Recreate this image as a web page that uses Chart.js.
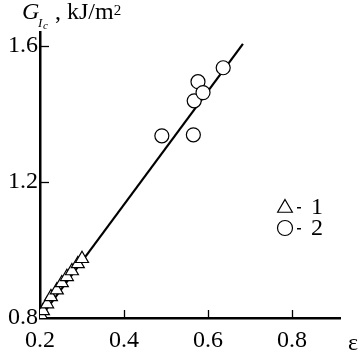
<!DOCTYPE html>
<html><head><meta charset="utf-8">
<script src="https://cdn.jsdelivr.net/npm/chart.js@4"></script>
<style>html,body{margin:0;padding:0;background:#fff}#wrap{position:relative;width:361px;height:357px}</style>
</head><body><div id="wrap"><canvas id="c" width="361" height="357"></canvas></div>
<script>
const triX = [0.202, 0.207, 0.217, 0.226, 0.240, 0.252, 0.264, 0.276, 0.290, 0.300];
const triY = [0.809, 0.821, 0.841, 0.862, 0.882, 0.903, 0.921, 0.938, 0.959, 0.974];
const circX = [0.490, 0.565, 0.567, 0.576, 0.588, 0.636];
const circY = [1.335, 1.338, 1.438, 1.494, 1.462, 1.535];
const fitX = [0.2, 0.683];
const fitY = [0.8, 1.605];
const xTicks = [0.2, 0.4, 0.6, 0.8];
const yTicks = [0.8, 1.2, 1.6];
const xTickLabels = ['0.2', '0.4', '0.6', '0.8'];
const yTickLabels = ['0.8', '1.2', '1.6'];
const legendLabels = ['1', '2'];
const FONT = '"Liberation Serif", "Times New Roman", serif';

const pts = (xs, ys) => xs.map((x, i) => ({x, y: ys[i]}));

const deco = {
  id: 'deco',
  afterDraw(chart) {
    const ctx = chart.ctx, xs = chart.scales.x, ys = chart.scales.y;
    ctx.save();
    ctx.strokeStyle = '#000'; ctx.lineWidth = 1.3;
    xTicks.forEach(v => { if (v === xs.min) return; const px = Math.round(xs.getPixelForValue(v)) + 0.5; ctx.beginPath(); ctx.moveTo(px, xs.top); ctx.lineTo(px, xs.top - 8); ctx.stroke(); });
    yTicks.forEach(v => { if (v === ys.min) return; const py = Math.round(ys.getPixelForValue(v)) + 0.5; ctx.beginPath(); ctx.moveTo(ys.right, py); ctx.lineTo(ys.right + 9, py); ctx.stroke(); });
    // y title
    ctx.fillStyle = '#000'; ctx.textBaseline = 'alphabetic'; ctx.textAlign = 'left';
    ctx.font = 'italic 24px ' + FONT; ctx.fillText('G', 22, 19);
    ctx.font = 'italic 13px ' + FONT; ctx.fillText('I', 38, 27);
    ctx.font = 'italic 11px ' + FONT; ctx.fillText('c', 43, 29);
    ctx.font = '24px ' + FONT;
    ctx.fillText(',', 55, 19);
    const w = ctx.measureText('kJ/m').width;
    ctx.fillText('kJ/m', 67, 19);
    ctx.font = '15px ' + FONT; ctx.fillText('2', 67 + w, 15);
    // x title
    ctx.font = '24px ' + FONT; ctx.fillText('ε', 348, 350);
    // legend
    const items = [chart.data.datasets[0], chart.data.datasets[1]];
    items.forEach((ds, i) => {
      const cy = 207 + i * 21;
      ctx.fillStyle = '#fff'; ctx.strokeStyle = '#000'; ctx.lineWidth = 1.2;
      Chart.helpers.drawPoint(ctx, {pointStyle: ds.pointStyle, radius: i === 0 ? 8.5 : 7.5, borderWidth: 1.2, rotation: 0}, 285, cy + (i === 0 ? 1 : 0));
      ctx.fillStyle = '#000'; ctx.font = '24px ' + FONT; ctx.textBaseline = 'middle';
      ctx.fillRect(297, cy, 4, 1.5);
      ctx.fillText(legendLabels[i], 311, cy + 1);
    });
    ctx.restore();
  }
};

new Chart(document.getElementById('c'), {
  type: 'scatter',
  data: { datasets: [
    { data: pts(triX, triY), pointStyle: 'triangle', pointRadius: 7.5, backgroundColor: '#fff', borderColor: '#000', borderWidth: 1.2, order: 0 },
    { data: pts(circX, circY), pointStyle: 'circle', pointRadius: 7, backgroundColor: '#fff', borderColor: '#000', borderWidth: 1.2, order: 0 },
    { type: 'line', data: pts(fitX, fitY), showLine: true, borderColor: '#000', borderWidth: 2.2, pointRadius: 0, fill: false, order: 5 }
  ]},
  options: {
    responsive: false, animation: false,
    layout: { padding: { top: 32, right: 21, left: 0, bottom: 0 } },
    plugins: { legend: { display: false }, tooltip: { enabled: false } },
    scales: {
      x: { type: 'linear', min: 0.2, max: 0.914,
        afterBuildTicks: s => { s.ticks = xTicks.map(v => ({value: v})); },
        afterFit: s => { s.height = 39; },
        grid: { display: false, drawTicks: false },
        border: { display: true, color: '#000', width: 2.5 },
        ticks: { padding: 8, color: '#000', font: { family: FONT, size: 24 }, maxRotation: 0, autoSkip: false,
          callback: (v) => { const i = xTicks.indexOf(Math.round(v*100)/100); return i >= 0 ? xTickLabels[i] : ''; } } },
      y: { type: 'linear', min: 0.8, max: 1.64,
        afterBuildTicks: s => { s.ticks = yTicks.map(v => ({value: v})); },
        afterFit: s => { s.width = 40; },
        grid: { display: false, drawTicks: false },
        border: { display: true, color: '#000', width: 2.5 },
        ticks: { padding: 2, color: '#000', font: { family: FONT, size: 24 },
          callback: (v) => { const i = yTicks.indexOf(Math.round(v*100)/100); return i >= 0 ? yTickLabels[i] : ''; } } }
    }
  },
  plugins: [deco]
});
</script></body></html>
